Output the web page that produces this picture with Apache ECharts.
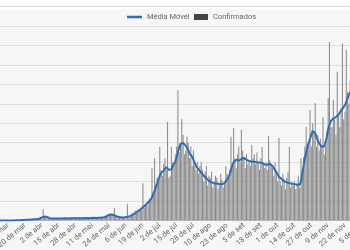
<!DOCTYPE html>
<html><head><meta charset="utf-8">
<script src="https://cdn.jsdelivr.net/npm/echarts@6/dist/echarts.min.js"></script>
<style>html,body{margin:0;padding:0;background:#f6f6f6}#c{width:350px;height:250px}</style>
</head><body><div id="c"></div>
<script>
// categories: daily dates, 26 de fev .. 6 de dez
const monthNames = ['fev','mar','abr','mai','jun','jul','ago','set','out','nov','dez'];
const monthStart = [26,1,1,1,1,1,1,1,1,1,1];
const monthEnd   = [29,31,30,31,30,31,31,30,31,30,6];
const tickLabels = ['7 de mar','20 de mar','2 de abr','15 de abr','28 de abr','11 de mai','24 de mai','6 de jun','19 de jun','2 de jul','15 de jul','28 de jul','10 de ago','23 de ago','5 de set','18 de set','1 de out','14 de out','27 de out','9 de nov','22 de nov','5 de dez'];
const categories = [];
monthNames.forEach((m, k) => { for (let d = monthStart[k]; d <= monthEnd[k]; d++) categories.push(d + ' de ' + m); });

const confirmados = [
0,0,0,0,0,0,2,0,1,3,
2,4,1,3,5,2,8,6,4,10,
12,15,9,20,18,14,25,30,22,28,
35,40,30,45,38,60,80,290,110,70,
60,45,40,55,60,50,45,65,50,40,
55,60,45,50,70,55,40,60,65,50,
55,70,50,45,65,75,60,55,70,65,
60,80,55,50,75,85,70,65,80,70,
75,90,85,70,95,100,110,130,160,140,
170,150,320,110,90,80,75,95,70,85,
70,110,420,60,90,150,200,130,260,240,
200,280,300,260,960,330,420,480,400,560,
500,1350,720,1600,950,1100,1000,1890,1300,1150,
1450,1600,1300,2530,1100,1150,1890,1500,1400,1700,
1900,3350,1750,2000,2600,2200,1700,1800,2150,2000,
1600,1900,1400,1800,1400,1300,1500,1200,1400,1500,
1300,1000,1250,1400,900,1150,1100,1250,850,1000,
1150,1100,800,950,1200,1050,850,950,1400,1200,
1100,1300,2150,1400,2380,1600,1350,1700,1900,1500,
2330,1800,1600,1350,1700,1450,1550,1400,1940,1600,
1700,1450,1750,1500,1300,1600,1890,1450,1350,1500,
1300,2170,1550,1450,1350,1150,1500,1200,1000,2120,
1000,900,1200,1050,800,1100,1250,1890,850,1000,
900,1000,800,950,1150,850,1600,1300,1630,1900,
2400,1900,2000,2840,1900,2500,2300,3020,1900,2200,
1800,2100,1900,2660,1700,1900,2300,3150,4590,2400,
2400,3100,2600,2200,3820,2700,2400,2900,4550,2600,
2800,4380,3300,3000,3600
];
const mediaMovel = [
0,0,0,0,0,0,1,1,1,1,
1,2,2,3,3,4,5,6,7,8,
10,12,14,16,18,20,22,24,26,28,
30,32,34,38,45,60,80,95,100,98,
90,75,60,55,52,50,50,48,50,52,
50,48,50,52,55,53,50,52,55,58,
60,58,55,57,60,62,60,58,60,62,
65,63,60,62,65,68,70,68,66,70,
72,75,78,80,85,95,110,130,150,160,
155,145,130,115,105,95,90,85,80,82,
85,90,95,100,110,125,145,165,185,210,
235,255,280,310,340,370,400,430,460,500,
540,600,680,760,850,950,1060,1150,1220,1270,
1280,1330,1370,1350,1300,1280,1320,1390,1450,1520,
1620,1750,1880,1970,2000,1990,1960,1930,1880,1810,
1720,1680,1640,1560,1480,1400,1350,1310,1270,1230,
1190,1150,1110,1080,1050,1020,1000,980,970,960,
955,950,945,940,935,930,940,960,1000,1060,
1110,1180,1300,1420,1500,1540,1560,1550,1540,1560,
1580,1600,1610,1590,1560,1540,1530,1520,1510,1500,
1510,1520,1500,1480,1490,1500,1480,1460,1440,1420,
1430,1450,1460,1440,1400,1350,1300,1250,1180,1120,
1100,1070,1040,1010,990,980,970,960,950,945,
940,935,930,920,915,920,1000,1200,1400,1600,
1750,1900,2000,2100,2200,2300,2330,2250,2150,2050,
1980,1940,1900,1890,1900,1950,2150,2350,2450,2560,
2590,2620,2650,2660,2680,2720,2780,2830,2870,2900,
2970,3050,3150,3230,3300
];

const chart = echarts.init(document.getElementById('c'), null, {renderer: 'canvas'});
const legendText = {fontSize: 7.5, color: '#666', fontFamily: 'Roboto'};
chart.setOption({
  backgroundColor: '#f6f6f6',
  animation: false,
  textStyle: {fontFamily: 'Roboto'},
  graphic: [{type: 'rect', shape: {x: 0, y: 0, width: 350, height: 9}, style: {fill: '#fcfcfc'}, silent: true, z: -1}],
  legend: [
    {left: 122, top: 8, icon: 'rect', itemWidth: 15, itemHeight: 2.5, itemGap: 4,
     textStyle: legendText, data: ['Média Móvel']},
    {left: 189, top: 8, icon: 'rect', itemWidth: 14, itemHeight: 6,
     textStyle: legendText, data: [{name: 'Confirmados', itemStyle: {color: '#444'}}]}
  ],
  grid: {left: -5.4, right: -13.8, top: 6.5, bottom: 29.5, containLabel: false, outerBoundsMode: 'none'},
  xAxis: {
    type: 'category', data: categories, boundaryGap: true,
    axisLine: {show: true, lineStyle: {color: '#cfcfcf'}},
    axisTick: {show: false},
    axisLabel: {
      rotate: 40, fontSize: 7.5, color: '#666', margin: 4,
      interval: (idx, val) => tickLabels.indexOf(val) >= 0
    }
  },
  yAxis: {
    type: 'value', min: 0, max: 5500, interval: 500,
    axisLabel: {show: false}, axisLine: {show: false}, axisTick: {show: false},
    splitLine: {lineStyle: {color: '#dedede', width: 1}}
  },
  series: [
    {name: 'Confirmados', type: 'bar', data: confirmados, barWidth: '80%',
     itemStyle: {color: '#8a8a8a'}, z: 2},
    {name: 'Média Móvel', type: 'line', data: mediaMovel, symbol: 'none', smooth: false,
     lineStyle: {color: '#2f6cb3', width: 2}, itemStyle: {color: '#2f6cb3'}, z: 3}
  ]
});
</script></body></html>
